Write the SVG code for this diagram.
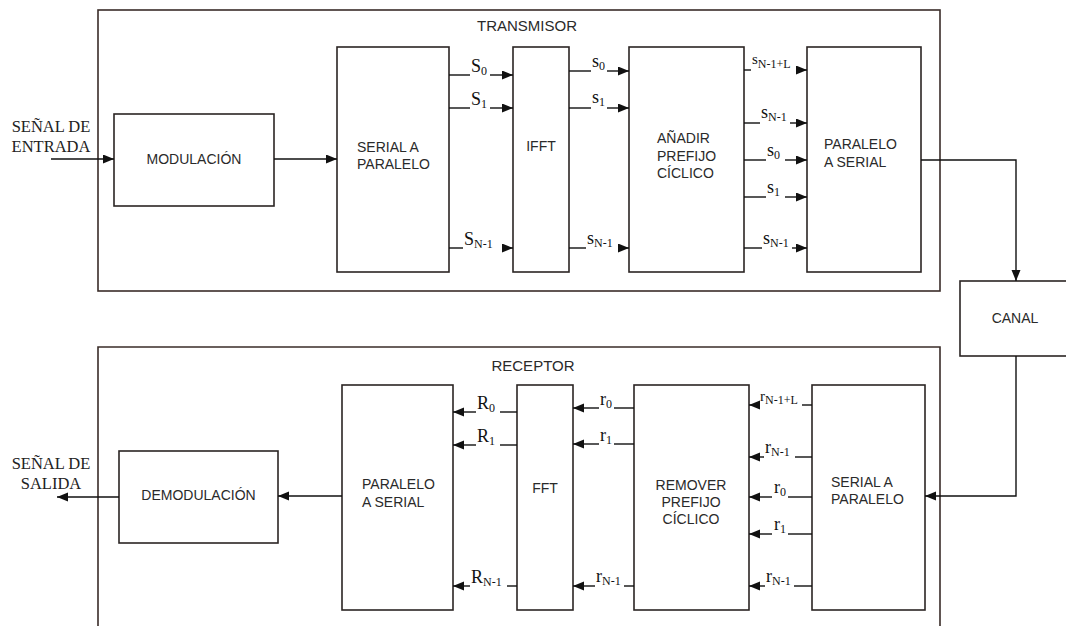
<svg xmlns="http://www.w3.org/2000/svg" width="1066" height="626" viewBox="0 0 1066 626">
<defs>
<marker id="arr" markerUnits="userSpaceOnUse" markerWidth="12" markerHeight="10" refX="11" refY="4.5" orient="auto">
<path d="M0,0 L11,4.5 L0,9 z" fill="#111"/>
</marker>
<style>
.box{fill:#fff;stroke:#2b2523;stroke-width:1.6}
.outer{fill:none;stroke:#3a2c28;stroke-width:1.6}
.ln{fill:none;stroke:#111;stroke-width:1.4}
.ar{fill:none;stroke:#111;stroke-width:1.4;marker-end:url(#arr)}
.t{font-family:"Liberation Sans",Arial,sans-serif;font-size:14px;fill:#2a2a2a}
.tc{font-family:"Liberation Sans",Arial,sans-serif;font-size:14px;fill:#2a2a2a;text-anchor:middle}
.sr{font-family:"Liberation Serif","Times New Roman",serif;font-size:16.5px;fill:#222;text-anchor:middle}
.lb{font-family:"Liberation Serif","Times New Roman",serif;font-size:18px;fill:#111}
.ls{font-family:"Liberation Serif","Times New Roman",serif;font-size:15px;fill:#111}
.sub{font-size:12px}
</style>
</defs>

<g id="transmisor">
<rect class="outer" x="98" y="10" width="842" height="281"/>
<text class="tc" x="527" y="31" style="font-size:15px">TRANSMISOR</text>
</g>
<g id="receptor">
<path class="outer" d="M98,640 V347 H940 V640"/>
<text class="tc" x="533" y="371" style="font-size:15px">RECEPTOR</text>
</g>

<g id="entrada">
<text class="sr" x="51" y="132">SEÑAL DE</text>
<text class="sr" x="51" y="152">ENTRADA</text>
</g>
<g id="salida">
<text class="sr" x="51" y="469">SEÑAL DE</text>
<text class="sr" x="51" y="489">SALIDA</text>
</g>

<g id="modulacion">
<rect class="box" x="114" y="114" width="160" height="92"/>
<text class="tc" x="194" y="164">MODULACIÓN</text>
</g>
<g id="tx-serial-paralelo">
<rect class="box" x="337" y="47" width="112" height="225"/>
<text class="t" x="357" y="152">SERIAL A</text>
<text class="t" x="357" y="169">PARALELO</text>
</g>
<g id="ifft">
<rect class="box" x="513" y="47" width="56" height="225"/>
<text class="tc" x="541" y="151">IFFT</text>
</g>
<g id="anadir-prefijo">
<rect class="box" x="629" y="47" width="115" height="225"/>
<text class="t" x="657" y="143">AÑADIR</text>
<text class="t" x="657" y="161">PREFIJO</text>
<text class="t" x="657" y="178">CÍCLICO</text>
</g>
<g id="tx-paralelo-serial">
<rect class="box" x="807" y="47" width="114" height="225"/>
<text class="t" x="824" y="149">PARALELO</text>
<text class="t" x="824" y="167">A SERIAL</text>
</g>
<g id="canal">
<rect class="box" x="960" y="281" width="112" height="75"/>
<text class="tc" x="1015" y="323">CANAL</text>
</g>

<g id="demodulacion">
<rect class="box" x="119" y="451" width="159" height="92"/>
<text class="tc" x="198.5" y="500">DEMODULACIÓN</text>
</g>
<g id="rx-paralelo-serial">
<rect class="box" x="342" y="385" width="111" height="225"/>
<text class="t" x="362" y="489">PARALELO</text>
<text class="t" x="362" y="507">A SERIAL</text>
</g>
<g id="fft">
<rect class="box" x="517" y="385" width="56" height="225"/>
<text class="tc" x="545" y="493">FFT</text>
</g>
<g id="remover-prefijo">
<rect class="box" x="634" y="385" width="115" height="225"/>
<text class="tc" x="691" y="490">REMOVER</text>
<text class="tc" x="691" y="507">PREFIJO</text>
<text class="tc" x="691" y="524">CÍCLICO</text>
</g>
<g id="rx-serial-paralelo">
<rect class="box" x="812" y="385" width="113" height="225"/>
<text class="t" x="831" y="487">SERIAL A</text>
<text class="t" x="831" y="504">PARALELO</text>
</g>

<g id="connectors">
<path class="ar" d="M51,159 H114"/>
<path class="ar" d="M274,159 H337"/>
<path class="ln" d="M449,75 H470"/><path class="ar" d="M490,75 H513"/>
<path class="ln" d="M449,108 H470"/><path class="ar" d="M490,108 H513"/>
<path class="ln" d="M449,248 H463"/><path class="ar" d="M502,248 H513"/>
<path class="ln" d="M569,71 H591"/><path class="ar" d="M607,71 H629"/>
<path class="ln" d="M569,108 H591"/><path class="ar" d="M607,108 H629"/>
<path class="ln" d="M569,248 H586"/><path class="ar" d="M620,248 H629"/>
<path class="ln" d="M744,70 H751"/><path class="ar" d="M797,70 H807"/>
<path class="ln" d="M744,123 H760"/><path class="ar" d="M790,123 H807"/>
<path class="ln" d="M744,160 H766"/><path class="ar" d="M785,160 H807"/>
<path class="ln" d="M744,197 H766"/><path class="ar" d="M785,197 H807"/>
<path class="ln" d="M744,248 H762"/><path class="ar" d="M792,248 H807"/>
<path class="ar" d="M921,160 H1016 V281"/>
<path class="ar" d="M1016,356 V496 H925"/>

<path class="ln" d="M812,405 H802"/><path class="ar" d="M759,405 H749"/>
<path class="ln" d="M812,457 H795"/><path class="ar" d="M764,457 H749"/>
<path class="ln" d="M812,497 H788"/><path class="ar" d="M772,497 H749"/>
<path class="ln" d="M812,534 H788"/><path class="ar" d="M772,534 H749"/>
<path class="ln" d="M812,586 H794"/><path class="ar" d="M765,586 H749"/>
<path class="ln" d="M634,408 H614"/><path class="ar" d="M599,408 H573"/>
<path class="ln" d="M634,444 H614"/><path class="ar" d="M599,444 H573"/>
<path class="ln" d="M634,586 H624"/><path class="ar" d="M595,586 H573"/>
<path class="ln" d="M517,412 H500"/><path class="ar" d="M476,412 H453"/>
<path class="ln" d="M517,445 H500"/><path class="ar" d="M476,445 H453"/>
<path class="ln" d="M517,586 H507"/><path class="ar" d="M470,586 H453"/>
<path class="ar" d="M342,496 H278"/>
<path class="ar" d="M119,497 H57"/>
</g>

<g id="labels">
<text class="lb" x="471" y="72">S<tspan class="sub" dy="3">0</tspan></text>
<text class="lb" x="471" y="105">S<tspan class="sub" dy="3">1</tspan></text>
<text class="lb" x="464" y="245">S<tspan class="sub" dy="3">N-1</tspan></text>
<text class="lb" x="592" y="67">s<tspan class="sub" dy="3">0</tspan></text>
<text class="lb" x="592" y="103">s<tspan class="sub" dy="3">1</tspan></text>
<text class="lb" x="587" y="244">s<tspan class="sub" dy="3">N-1</tspan></text>
<text class="ls" x="752" y="64">s<tspan class="sub" dy="4">N-1+L</tspan></text>
<text class="lb" x="761" y="118">s<tspan class="sub" dy="3">N-1</tspan></text>
<text class="lb" x="767" y="156">s<tspan class="sub" dy="3">0</tspan></text>
<text class="lb" x="767" y="193">s<tspan class="sub" dy="3">1</tspan></text>
<text class="lb" x="763" y="244">s<tspan class="sub" dy="3">N-1</tspan></text>

<text class="ls" x="760" y="401">r<tspan class="sub" dy="3">N-1+L</tspan></text>
<text class="lb" x="765" y="453">r<tspan class="sub" dy="3">N-1</tspan></text>
<text class="lb" x="774" y="493">r<tspan class="sub" dy="3">0</tspan></text>
<text class="lb" x="774" y="530">r<tspan class="sub" dy="3">1</tspan></text>
<text class="lb" x="766" y="582">r<tspan class="sub" dy="3">N-1</tspan></text>
<text class="lb" x="600" y="405">r<tspan class="sub" dy="3">0</tspan></text>
<text class="lb" x="600" y="441">r<tspan class="sub" dy="3">1</tspan></text>
<text class="lb" x="596" y="582">r<tspan class="sub" dy="3">N-1</tspan></text>
<text class="lb" x="477" y="409">R<tspan class="sub" dy="3">0</tspan></text>
<text class="lb" x="477" y="442">R<tspan class="sub" dy="3">1</tspan></text>
<text class="lb" x="471" y="583">R<tspan class="sub" dy="3">N-1</tspan></text>
</g>
</svg>
